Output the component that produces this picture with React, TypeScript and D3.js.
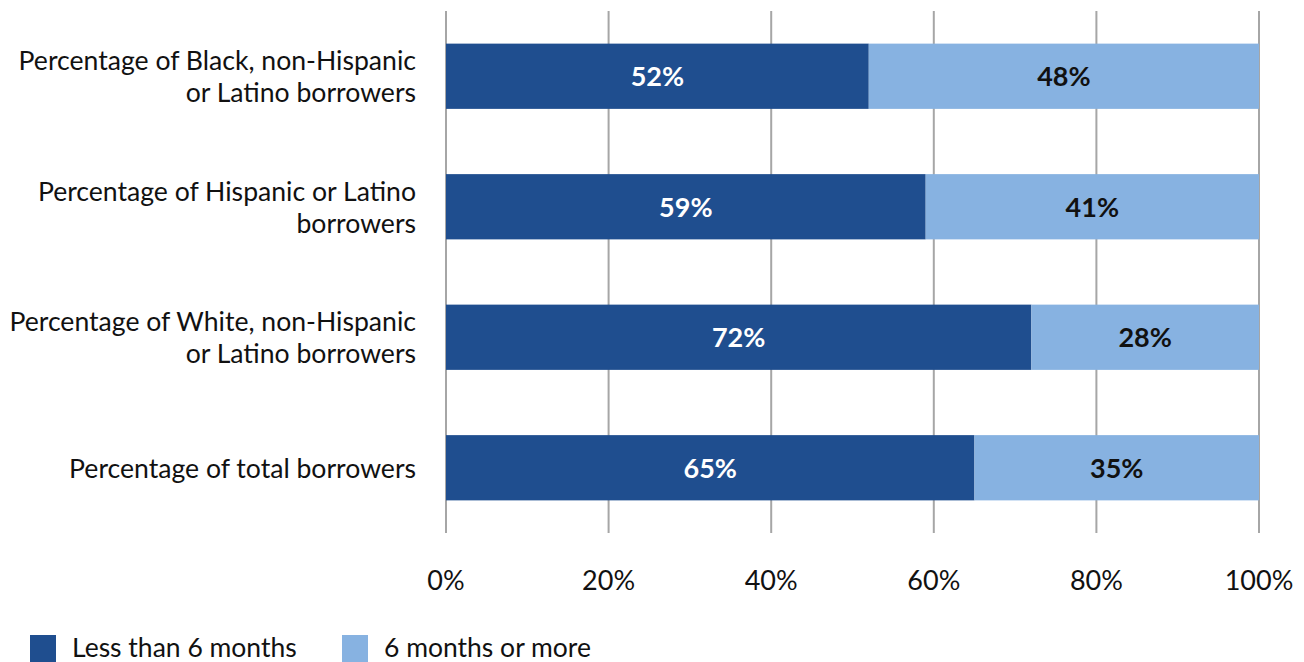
import React from "react";
import * as d3 from "d3";

const categories = [
  ["Percentage of Black, non-Hispanic", "or Latino borrowers"],
  ["Percentage of Hispanic or Latino", "borrowers"],
  ["Percentage of White, non-Hispanic", "or Latino borrowers"],
  ["Percentage of total borrowers"],
];
const lessThan6 = [52, 59, 72, 65];
const sixOrMore = [48, 41, 28, 35];
const xTicks = [0, 20, 40, 60, 80, 100];
const seriesNames = ["Less than 6 months", "6 months or more"];
const colors = ["#1F4E8F", "#87B2E1"];

export default function App() {
  const W = 1304, H = 662;
  const x = d3.scaleLinear().domain([0, 100]).range([446, 1259]);
  const y = d3.scaleBand().domain(categories.map((_, i) => String(i))).range([11, 533]).paddingInner(0.5).paddingOuter(0.25);
  const font = "Lato, 'Open Sans', sans-serif";
  const fs = 26.6;
  return (
    <svg width={W} height={H} style={{ position: "absolute", left: 0, top: 0 }} fontFamily={font}>
      {xTicks.map((t) => (
        <g key={t}>
          <line x1={x(t)} x2={x(t)} y1={11} y2={533} stroke="#A6A6A6" strokeWidth={2} />
          <text x={x(t)} y={590} textAnchor="middle" fontSize={27} fill="#111">{t}%</text>
        </g>
      ))}
      {categories.map((lines, i) => {
        const y0 = y(String(i))!;
        const bh = y.bandwidth();
        const cy = y0 + bh / 2;
        const a = lessThan6[i], b = sixOrMore[i];
        return (
          <g key={i}>
            <rect x={x(0)} y={y0} width={x(a) - x(0)} height={bh} fill={colors[0]} />
            <rect x={x(a)} y={y0} width={x(a + b) - x(a)} height={bh} fill={colors[1]} />
            <text x={(x(0) + x(a)) / 2} y={cy + 10} textAnchor="middle" fontSize={27} fontWeight="bold" fill="#fff">{a}%</text>
            <text x={(x(a) + x(a + b)) / 2} y={cy + 10} textAnchor="middle" fontSize={27} fontWeight="bold" fill="#111">{b}%</text>
            {lines.map((ln, j) => (
              <text key={j} x={416} y={cy + 10 + (j - (lines.length - 1) / 2) * 32} textAnchor="end" fontSize={fs} fill="#111">{ln}</text>
            ))}
          </g>
        );
      })}
      {seriesNames.map((s, i) => {
        const lx = i === 0 ? 30 : 342;
        return (
          <g key={s}>
            <rect x={lx} y={635} width={26} height={27} fill={colors[i]} />
            <text x={lx + 42} y={657} fontSize={26.5} fill="#111">{s}</text>
          </g>
        );
      })}
    </svg>
  );
}
